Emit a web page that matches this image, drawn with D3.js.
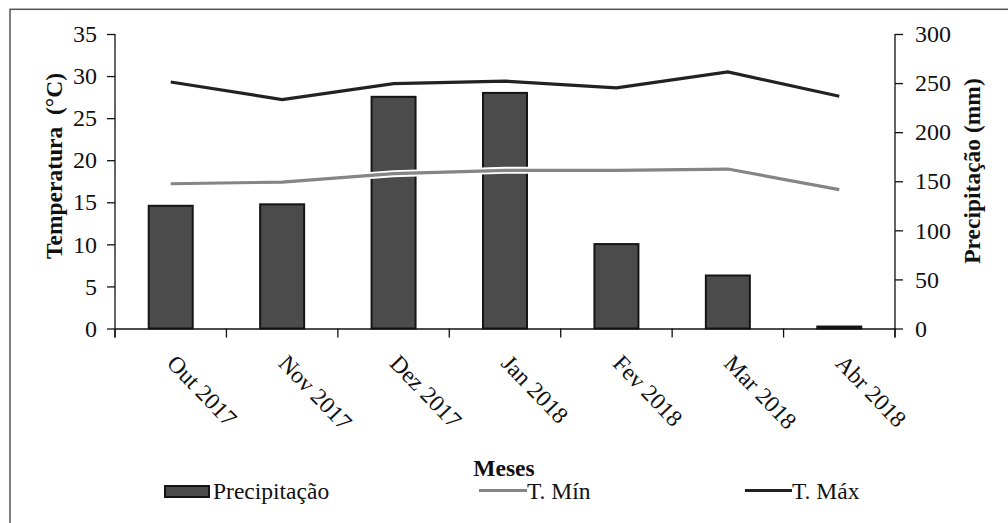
<!DOCTYPE html>
<html><head><meta charset="utf-8">
<script src="https://cdn.jsdelivr.net/npm/d3@7"></script>
<style>body{margin:0;background:#fff}svg{display:block}</style>
</head><body><svg id="c" width="1008" height="523" font-family="'Liberation Serif', 'Times New Roman', Times, 'DejaVu Serif', serif"></svg>
<script>
const months = ["Out 2017","Nov 2017","Dez 2017","Jan 2018","Fev 2018","Mar 2018","Abr 2018"];
const precip = [125, 126.5, 236, 240, 86, 54, 2];
const tMin = [17.2, 17.4, 18.4, 18.8, 18.8, 18.95, 16.5];
const tMax = [29.3, 27.2, 29.1, 29.4, 28.6, 30.5, 27.6];
const leftTicks = [0,5,10,15,20,25,30,35];
const rightTicks = [0,50,100,150,200,250,300];

const FONT = "'Liberation Serif', 'Times New Roman', Times, 'DejaVu Serif', serif";
const svg = d3.select("#c");
const L = 115, R = 895, T = 34, B = 328.5;
svg.append("rect").attr("x",10).attr("y",9.3).attr("width",1020).attr("height",540)
  .attr("fill","none").attr("stroke","#555").attr("stroke-width",1.5);

const xb = d3.scaleBand().domain(months).range([L,R]);
const yL = d3.scaleLinear().domain([0,35]).range([B,T]);
const yR = d3.scaleLinear().domain([0,300]).range([B,T]);

svg.append("g").selectAll("rect").data(months).join("rect")
  .attr("x",d=>xb(d)+xb.bandwidth()/2-22).attr("width",44)
  .attr("y",(d,i)=>yR(precip[i])).attr("height",(d,i)=>B-yR(precip[i]))
  .attr("fill","#4b4b4b").attr("stroke","#151515").attr("stroke-width",2);

const gl = svg.append("g").attr("transform",`translate(${L},0)`)
  .call(d3.axisLeft(yL).tickValues(leftTicks).tickSize(8).tickPadding(10).tickSizeOuter(0));
const gr = svg.append("g").attr("transform",`translate(${R},0)`)
  .call(d3.axisRight(yR).tickValues(rightTicks).tickSize(8).tickPadding(12).tickSizeOuter(0));
const gx = svg.append("g").attr("transform",`translate(0,${B})`)
  .call(d3.axisBottom(xb).tickValues([]).tickSizeOuter(0));
const bounds = months.map(m=>xb(m)).concat([R]);
svg.append("g").selectAll("line").data(bounds).join("line")
  .attr("x1",d=>d).attr("x2",d=>d).attr("y1",B).attr("y2",B+9).attr("stroke","#111").attr("stroke-width",1.3);
[gl,gr,gx].forEach(g=>{
  g.attr("font-family",FONT).attr("font-size",24);
  g.selectAll("path,line").attr("stroke","#111").attr("stroke-width",1.3);
  g.selectAll("text").attr("fill","#111");
});
gl.select(".domain").attr("d",`M0,${T}V${B+9}`);
gr.select(".domain").attr("d",`M0,${T}V${B+9}`);

svg.append("g").selectAll("text").data(months).join("text")
  .attr("transform",d=>`translate(${xb(d)+xb.bandwidth()/2-5},${B+36}) rotate(46)`)
  .attr("font-family",FONT).attr("font-size",23.5).attr("fill","#111").text(d=>d);

const lineL = d3.line().x((d,i)=>xb(months[i])+xb.bandwidth()/2).y(d=>yL(d));
[[tMin,"#858585"],[tMax,"#222"]].forEach(([data,col])=>{
  svg.append("path").attr("d",lineL(data)).attr("fill","none").attr("stroke","#fff").attr("stroke-width",7);
  svg.append("path").attr("d",lineL(data)).attr("fill","none").attr("stroke",col).attr("stroke-width",3.2);
});

function txt(s){ return svg.append("text").attr("font-family",FONT).attr("font-size",23.5).attr("fill","#111").text(s); }
txt("Temperatura  (°C)").attr("transform","translate(62,166) rotate(-90)").attr("text-anchor","middle").attr("font-weight","bold").style("white-space","pre");
txt("Precipitação (mm)").attr("transform","translate(980,171) rotate(-90)").attr("text-anchor","middle").attr("font-weight","bold");
txt("Meses").attr("x",504).attr("y",476).attr("text-anchor","middle").attr("font-weight","bold");

svg.append("rect").attr("x",165).attr("y",486).attr("width",44).attr("height",11)
  .attr("fill","#4b4b4b").attr("stroke","#151515").attr("stroke-width",2);
txt("Precipitação").attr("x",213).attr("y",499);
svg.append("line").attr("x1",479).attr("x2",527).attr("y1",490.5).attr("y2",490.5).attr("stroke","#858585").attr("stroke-width",3.2);
txt("T. Mín").attr("x",527).attr("y",499);
svg.append("line").attr("x1",745).attr("x2",792).attr("y1",490.5).attr("y2",490.5).attr("stroke","#222").attr("stroke-width",3.2);
txt("T. Máx").attr("x",792).attr("y",499);
</script></body></html>
